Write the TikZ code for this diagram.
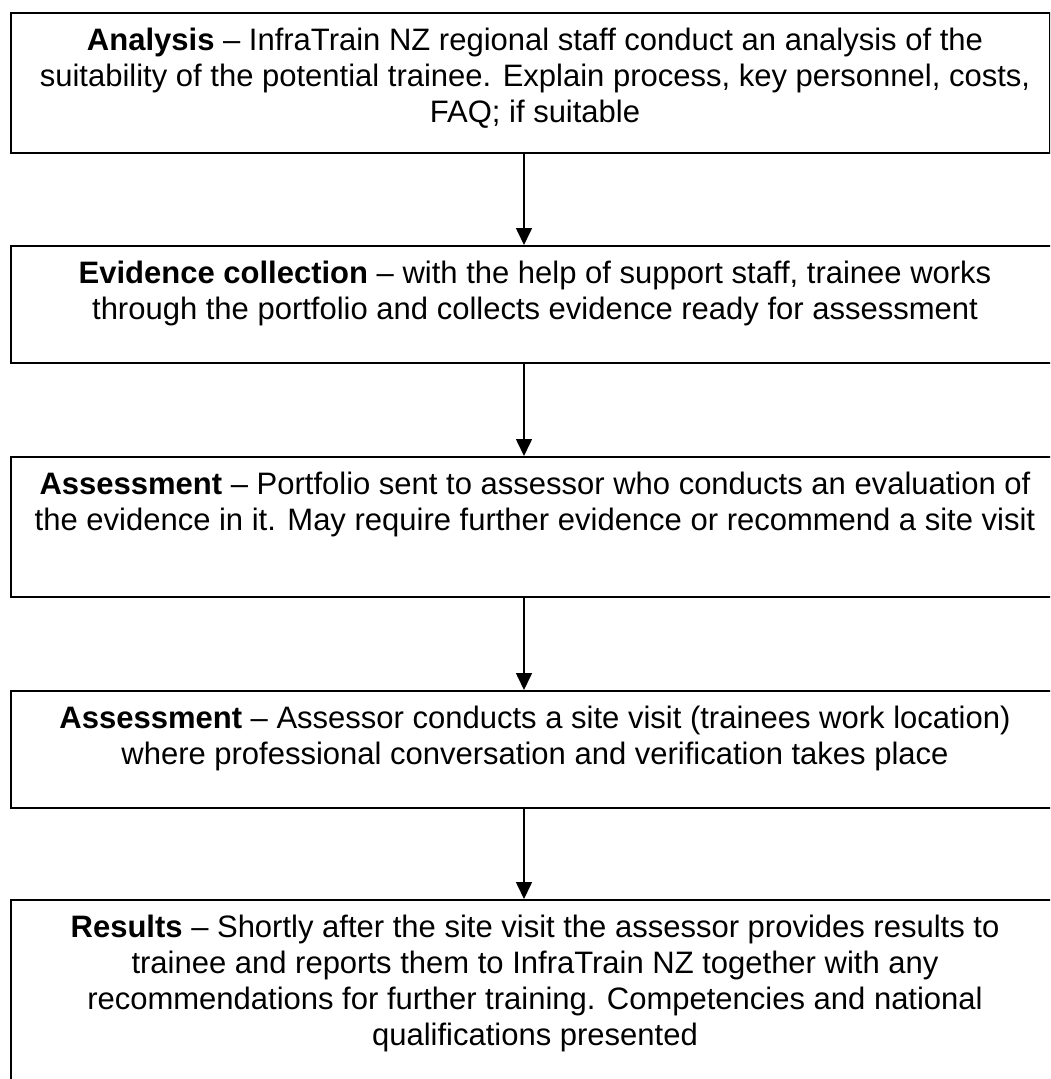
\documentclass[tikz,border=0pt]{standalone}
\usepackage{fontspec}
\setmainfont{Liberation Sans}
\usetikzlibrary{arrows.meta}
\begin{document}
\begin{tikzpicture}[x=1pt,y=-1pt,
  box/.style={draw=black, line width=2pt, anchor=north west, inner sep=0pt},
  txt/.style={anchor=north, inner sep=0pt, align=center,
    font=\fontsize{31}{36}\selectfont},
  conn/.style={line width=1.6pt, -{Triangle[length=17pt,width=16pt]}}]
\useasboundingbox (0,0) rectangle (1050,1079);
\clip (0,0) rectangle (1050,1079);
\node[box, minimum width=1039pt, minimum height=140pt] (b1) at (10,12) {};
\node[box, minimum width=1060pt, minimum height=117pt] (b2) at (10,245) {};
\node[box, minimum width=1060pt, minimum height=140pt] (b3) at (10,456) {};
\node[box, minimum width=1060pt, minimum height=117pt] (b4) at (10,690) {};
\node[box, minimum width=1060pt, minimum height=240pt] (b5) at (10,899) {};
\coordinate (ax) at (524,0);
\coordinate (tx) at (535,0);
\node[txt] (t1) at ([yshift=-16pt]b1.north -| tx) {\textbf{Analysis} – InfraTrain NZ regional staff conduct an analysis of the\\suitability of the potential trainee. Explain process, key personnel, costs,\\FAQ; if suitable};
\node[txt] (t2) at ([yshift=-16pt]b2.north -| tx) {\textbf{Evidence collection} – with the help of support staff, trainee works\\through the portfolio and collects evidence ready for assessment};
\node[txt] (t3) at ([yshift=-16pt]b3.north -| tx) {\textbf{Assessment} – Portfolio sent to assessor who conducts an evaluation of\\the evidence in it. May require further evidence or recommend a site visit};
\node[txt] (t4) at ([yshift=-16pt]b4.north -| tx) {\textbf{Assessment} – Assessor conducts a site visit (trainees work location)\\where professional conversation and verification takes place};
\node[txt] (t5) at ([yshift=-16pt]b5.north -| tx) {\textbf{Results} – Shortly after the site visit the assessor provides results to\\trainee and reports them to InfraTrain NZ together with any\\recommendations for further training. Competencies and national\\qualifications presented};
\draw[conn] (b1.south -| ax) -- (b2.north -| ax);
\draw[conn] (b2.south -| ax) -- (b3.north -| ax);
\draw[conn] (b3.south -| ax) -- (b4.north -| ax);
\draw[conn] (b4.south -| ax) -- (b5.north -| ax);
\end{tikzpicture}
\end{document}
